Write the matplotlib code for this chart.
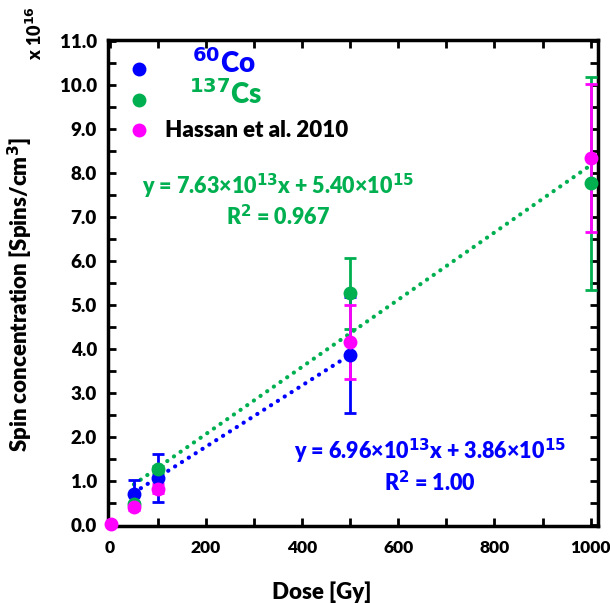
import matplotlib.pyplot as plt
from matplotlib.ticker import MultipleLocator

# Data (spin concentration in units of 1e16 spins/cm^3)
co_dose = [50, 100, 500]
co_spin = [0.71, 1.07, 3.86]
co_err = [0.30, 0.54, 1.32]

cs_dose = [50, 100, 500, 1000]
cs_spin = [0.48, 1.27, 5.26, 7.76]
cs_err = [0.05, 0.08, 0.80, 2.42]

hassan_dose = [3, 50, 100, 500, 1000]
hassan_spin = [0.03, 0.40, 0.82, 4.16, 8.33]
hassan_err = [0.0, 0.05, 0.10, 0.84, 1.68]

# Linear fits shown on the chart (slope per Gy, intercept, in 1e16 units)
co_fit = (6.96e13 / 1e16, 3.86e15 / 1e16)
cs_fit = (7.63e13 / 1e16, 5.40e15 / 1e16)

blue = '#0000FF'
green = '#00B050'
magenta = '#FF00FF'

plt.rcParams['font.family'] = ['Lato', 'DejaVu Sans']
plt.rcParams['font.weight'] = 'heavy'
plt.rcParams['mathtext.default'] = 'bf'

fig = plt.figure(figsize=(6.10, 6.03), dpi=100)
ax = fig.add_axes([0.177, 0.128, 0.803, 0.806])

# Trend lines
dot = (0, (0.05, 1.9))
xs = [co_dose[0], co_dose[-1]]
ax.plot(xs, [co_fit[0] * x + co_fit[1] for x in xs], color=blue, lw=3,
        linestyle=dot, dash_capstyle='round', zorder=2)
xs = [cs_dose[0], cs_dose[-1]]
ax.plot(xs, [cs_fit[0] * x + cs_fit[1] for x in xs], color=green, lw=3,
        linestyle=dot, dash_capstyle='round', zorder=2)

# Data points with error bars
for d, s, e, c in [(co_dose, co_spin, co_err, blue),
                   (cs_dose, cs_spin, cs_err, green),
                   (hassan_dose, hassan_spin, hassan_err, magenta)]:
    ax.errorbar(d, s, yerr=e, fmt='o', color=c, ms=9, elinewidth=2,
                capsize=4, capthick=2, zorder=3, clip_on=False)

ax.set_xlim(-4, 1015)
ax.set_ylim(-0.02, 11.02)
ax.xaxis.set_major_locator(MultipleLocator(200))
ax.xaxis.set_minor_locator(MultipleLocator(100))
ax.yaxis.set_major_locator(MultipleLocator(1.0))
ax.yaxis.set_minor_locator(MultipleLocator(0.5))
ax.set_yticklabels([f'{v:.1f}' for v in ax.get_yticks()])
ax.tick_params(which='both', direction='in', top=True, right=True,
               width=2, length=6, labelsize=13.5)
ax.tick_params(axis='x', pad=10, labelsize=12.5)
ax.tick_params(axis='y', pad=8)
for sp in ax.spines.values():
    sp.set_linewidth(2.5)

ax.set_xlabel('Dose [Gy]', fontsize=16, fontweight='heavy')
ax.xaxis.set_label_coords(0.436, -0.115)
ax.set_ylabel('Spin concentration [Spins/cm$^3$]', fontsize=16,
              fontweight='heavy')
ax.yaxis.set_label_coords(-0.148, 0.475)
fig.text(0.058, 0.945, 'x 10$^{16}$', rotation=90, fontsize=13,
         fontweight='heavy', ha='center', va='center')

# Legend (markers plus coloured labels)
for yv, c in [(10.35, blue), (9.65, green), (8.96, magenta)]:
    ax.plot([60], [yv], 'o', color=c, ms=9)
ax.text(170, 10.5, '$^{60}$Co', color=blue, fontsize=20, fontweight='heavy',
        va='center')
ax.text(165, 9.78, '$^{137}$Cs', color=green, fontsize=20,
        fontweight='heavy', va='center')
ax.text(115, 8.96, 'Hassan et al. 2010', color='black', fontsize=16,
        fontweight='heavy', va='center')

# Fit equations
ax.text(350, 7.7, 'y = 7.63×10$^{13}$x + 5.40×10$^{15}$', color=green,
        fontsize=15.5, fontweight='heavy', ha='center', va='center')
ax.text(350, 7.0, 'R$^2$ = 0.967', color=green, fontsize=15.5,
        fontweight='heavy', ha='center', va='center')
ax.text(665, 1.68, 'y = 6.96×10$^{13}$x + 3.86×10$^{15}$', color=blue,
        fontsize=15.5, fontweight='heavy', ha='center', va='center')
ax.text(665, 0.97, 'R$^2$ = 1.00', color=blue, fontsize=15.5,
        fontweight='heavy', ha='center', va='center')

fig.savefig('out.png', dpi=100)
